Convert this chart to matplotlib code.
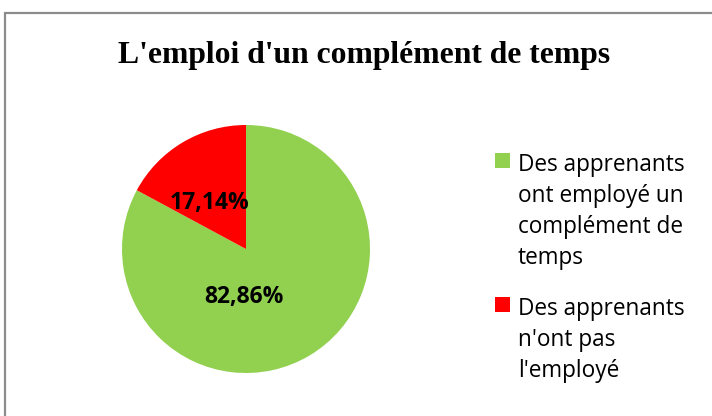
import matplotlib
matplotlib.use("Agg")
import matplotlib.pyplot as plt
from matplotlib.patches import Rectangle

title = "L'emploi d'un complément de temps"
categories = ["Des apprenants\nont employé un\ncomplément de\ntemps",
              "Des apprenants\nn'ont pas\nl'employé"]
values = [82.86, 17.14]
value_labels = ["82,86%", "17,14%"]
colors = ["#92D050", "#FF0000"]

W, H = 712, 416
fig = plt.figure(figsize=(W / 100, H / 100), dpi=100)

# chart border
fig.patches.append(Rectangle((5 / W, -0.1), 1.1, 1 - 13 / H + 0.1, transform=fig.transFigure,
                             fill=False, edgecolor="#8c8c8c", linewidth=1.6))

fig.text(364 / W, 1 - 55 / H, title, ha="center", va="center",
         family="Liberation Serif", fontweight="bold", fontsize=22.8)

cx, cy, r = 246, 249, 124
ax = fig.add_axes([(cx - r) / W, 1 - (cy + r) / H, 2 * r / W, 2 * r / H])
wedges, _ = ax.pie(values, colors=colors, startangle=90, counterclock=False,
                   radius=1.0, wedgeprops=dict(linewidth=0))
ax.set_xlim(-1, 1)
ax.set_ylim(-1, 1)
ax.set_aspect("equal")
ax.axis("off")

label_pos = [(-0.02, -0.387), (-0.29, 0.37)]
for (x, y), lab in zip(label_pos, value_labels):
    ax.text(x, y, lab, ha="center", va="center", family="Open Sans",
            fontweight="bold", fontsize=16.5, color="black")

# legend (drawn manually for Excel-like line spacing)
line_h = 31
entry_top_baselines = [171, 315]
for wedge, label, base in zip(wedges, categories, entry_top_baselines):
    sq = 15
    fig.patches.append(Rectangle((495 / W, 1 - (base - 3) / H), sq / W, sq / H,
                                 transform=fig.transFigure,
                                 facecolor=wedge.get_facecolor(), edgecolor="none"))
    for i, line in enumerate(label.split("\n")):
        fig.text(518 / W, 1 - (base + i * line_h) / H, line, ha="left",
                 va="baseline", family="Open Sans", fontsize=16.3, color="black")

fig.savefig("out.png", dpi=100)
